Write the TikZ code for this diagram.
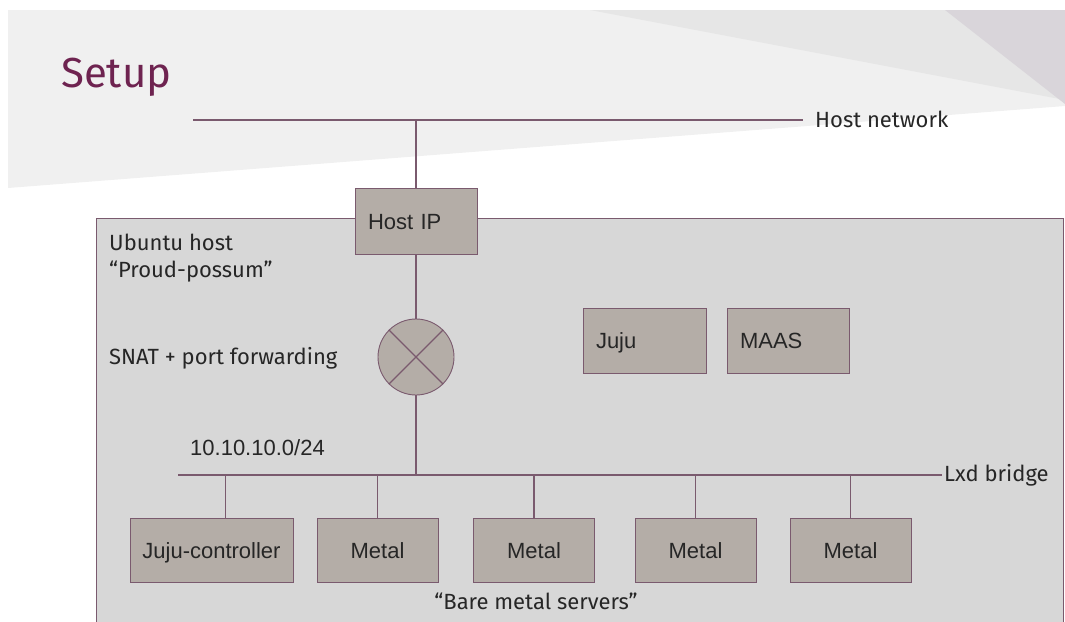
\documentclass[tikz,border=0pt]{standalone}
\usepackage{fontspec}
\usepackage{tikz}
\usetikzlibrary{positioning}
\setmainfont{Liberation Sans}
\newfontfamily\ubufont{Fira Sans}
\definecolor{setupbg}{HTML}{F0F0F0}
\definecolor{setupband}{HTML}{E6E6E6}
\definecolor{setupcorner}{HTML}{D9D5DA}
\definecolor{setuptitle}{HTML}{6E2350}
\definecolor{setupline}{HTML}{7A5A6E}
\definecolor{setuphost}{HTML}{D7D7D7}
\definecolor{setupbox}{HTML}{B4ADA7}
\definecolor{setuptext}{HTML}{262626}
\newcommand{\boxfont}{\fontsize{22}{26}\selectfont}
\newcommand{\ubusize}{\ubufont\fontsize{22}{27}\selectfont}

\begin{document}
\begin{tikzpicture}[x=1pt, y=-1pt,
  srv/.style={draw=setupline, fill=setupbox, line width=0.9pt, minimum height=64pt, inner sep=0pt,
    text height=18pt, text depth=2pt, font=\boxfont, text=setuptext},
  srvleft/.style={srv, align=left, inner xsep=13pt},
  wire/.style={setupline, line width=1.2pt},
  lab/.style={font=\ubusize, text=setuptext, inner sep=2pt}]
  \useasboundingbox (0,0) rectangle (1065,621);
  \clip (0,0) rectangle (1065,621);
  % slide background
  \fill[setupbg] (8,10) -- (1065,10) -- (1065,106) -- (8,188) -- cycle;
  \fill[setupband] (590,10) -- (1065,10) -- (1065,100) -- cycle;
  \fill[setupcorner] (945,10) -- (1065,10) -- (1065,104) -- cycle;
  \node[anchor=base west, font=\ubufont\fontsize{42}{50}\selectfont, text=setuptitle, inner sep=0pt] (title) at (61,87) {Setup};

  % ubuntu host
  \node[draw=setupline, fill=setuphost, line width=0.9pt, anchor=north west, minimum width=967pt, minimum height=430pt] (host) at (96,218) {};
  \node[lab, anchor=north west, align=left] (hostname) at (107,232) {Ubuntu host\\“Proud-possum”};
  \node[lab, anchor=base west, inner sep=0pt] (snat) at (109,364) {SNAT + port forwarding};
  \node[srvleft, text width=96pt, minimum height=66pt] (hostip) at (416,221) {Host IP};
  \node[circle, draw=setupline, fill=setupbox, line width=0.9pt, minimum size=76pt, inner sep=0pt] (nat) at (416,357) {};
  \draw[wire] (nat.45) -- (nat.225) (nat.135) -- (nat.315);
  \node[srvleft, text width=97pt, minimum height=65pt] (juju) at (644.5,340.5) {Juju};
  \node[srvleft, text width=96pt, minimum height=65pt] (maas) at (788,340.5) {MAAS};

  % networks
  \coordinate (hostnet) at (193,120);
  \node[lab, anchor=base west, inner xsep=12pt, inner ysep=0pt] (hostnetlab) at (803,127) {Host network};
  \draw[wire] (hostnet) -- (hostnet -| hostnetlab.west);
  \draw[wire] (hostip.north) -- (hostip.north |- hostnet);
  \draw[wire] (hostip) -- (nat);
  \coordinate (lxd) at (178,475);
  \node[lab, anchor=base west, inner xsep=2pt, inner ysep=0pt] (lxdlab) at (942,481) {Lxd bridge};
  \draw[wire] (lxd) -- (lxd -| lxdlab.west);
  \draw[wire] (nat.south) -- (nat.south |- lxd);
  \node[font=\boxfont, text=setuptext, anchor=base west, inner sep=0pt] (subnet) at (190,455) {10.10.10.0/24};

  % servers
  \node[srv, minimum width=163pt] (jc) at (211.5,550) {Juju-controller};
  \draw[wire] ([xshift=14pt]jc.north) -- ([xshift=14pt]jc.north |- lxd);
  \foreach \i/\x in {1/377.5,2/534,3/695.5,4/850.5}{
    \node[srv, minimum width=121pt] (metal\i) at (\x,550) {Metal};
    \draw[wire] (metal\i.north) -- (metal\i.north |- lxd);
  }
  \node[lab, anchor=base] (baremetal) at (536,609) {“Bare metal servers”};
\end{tikzpicture}
\end{document}
